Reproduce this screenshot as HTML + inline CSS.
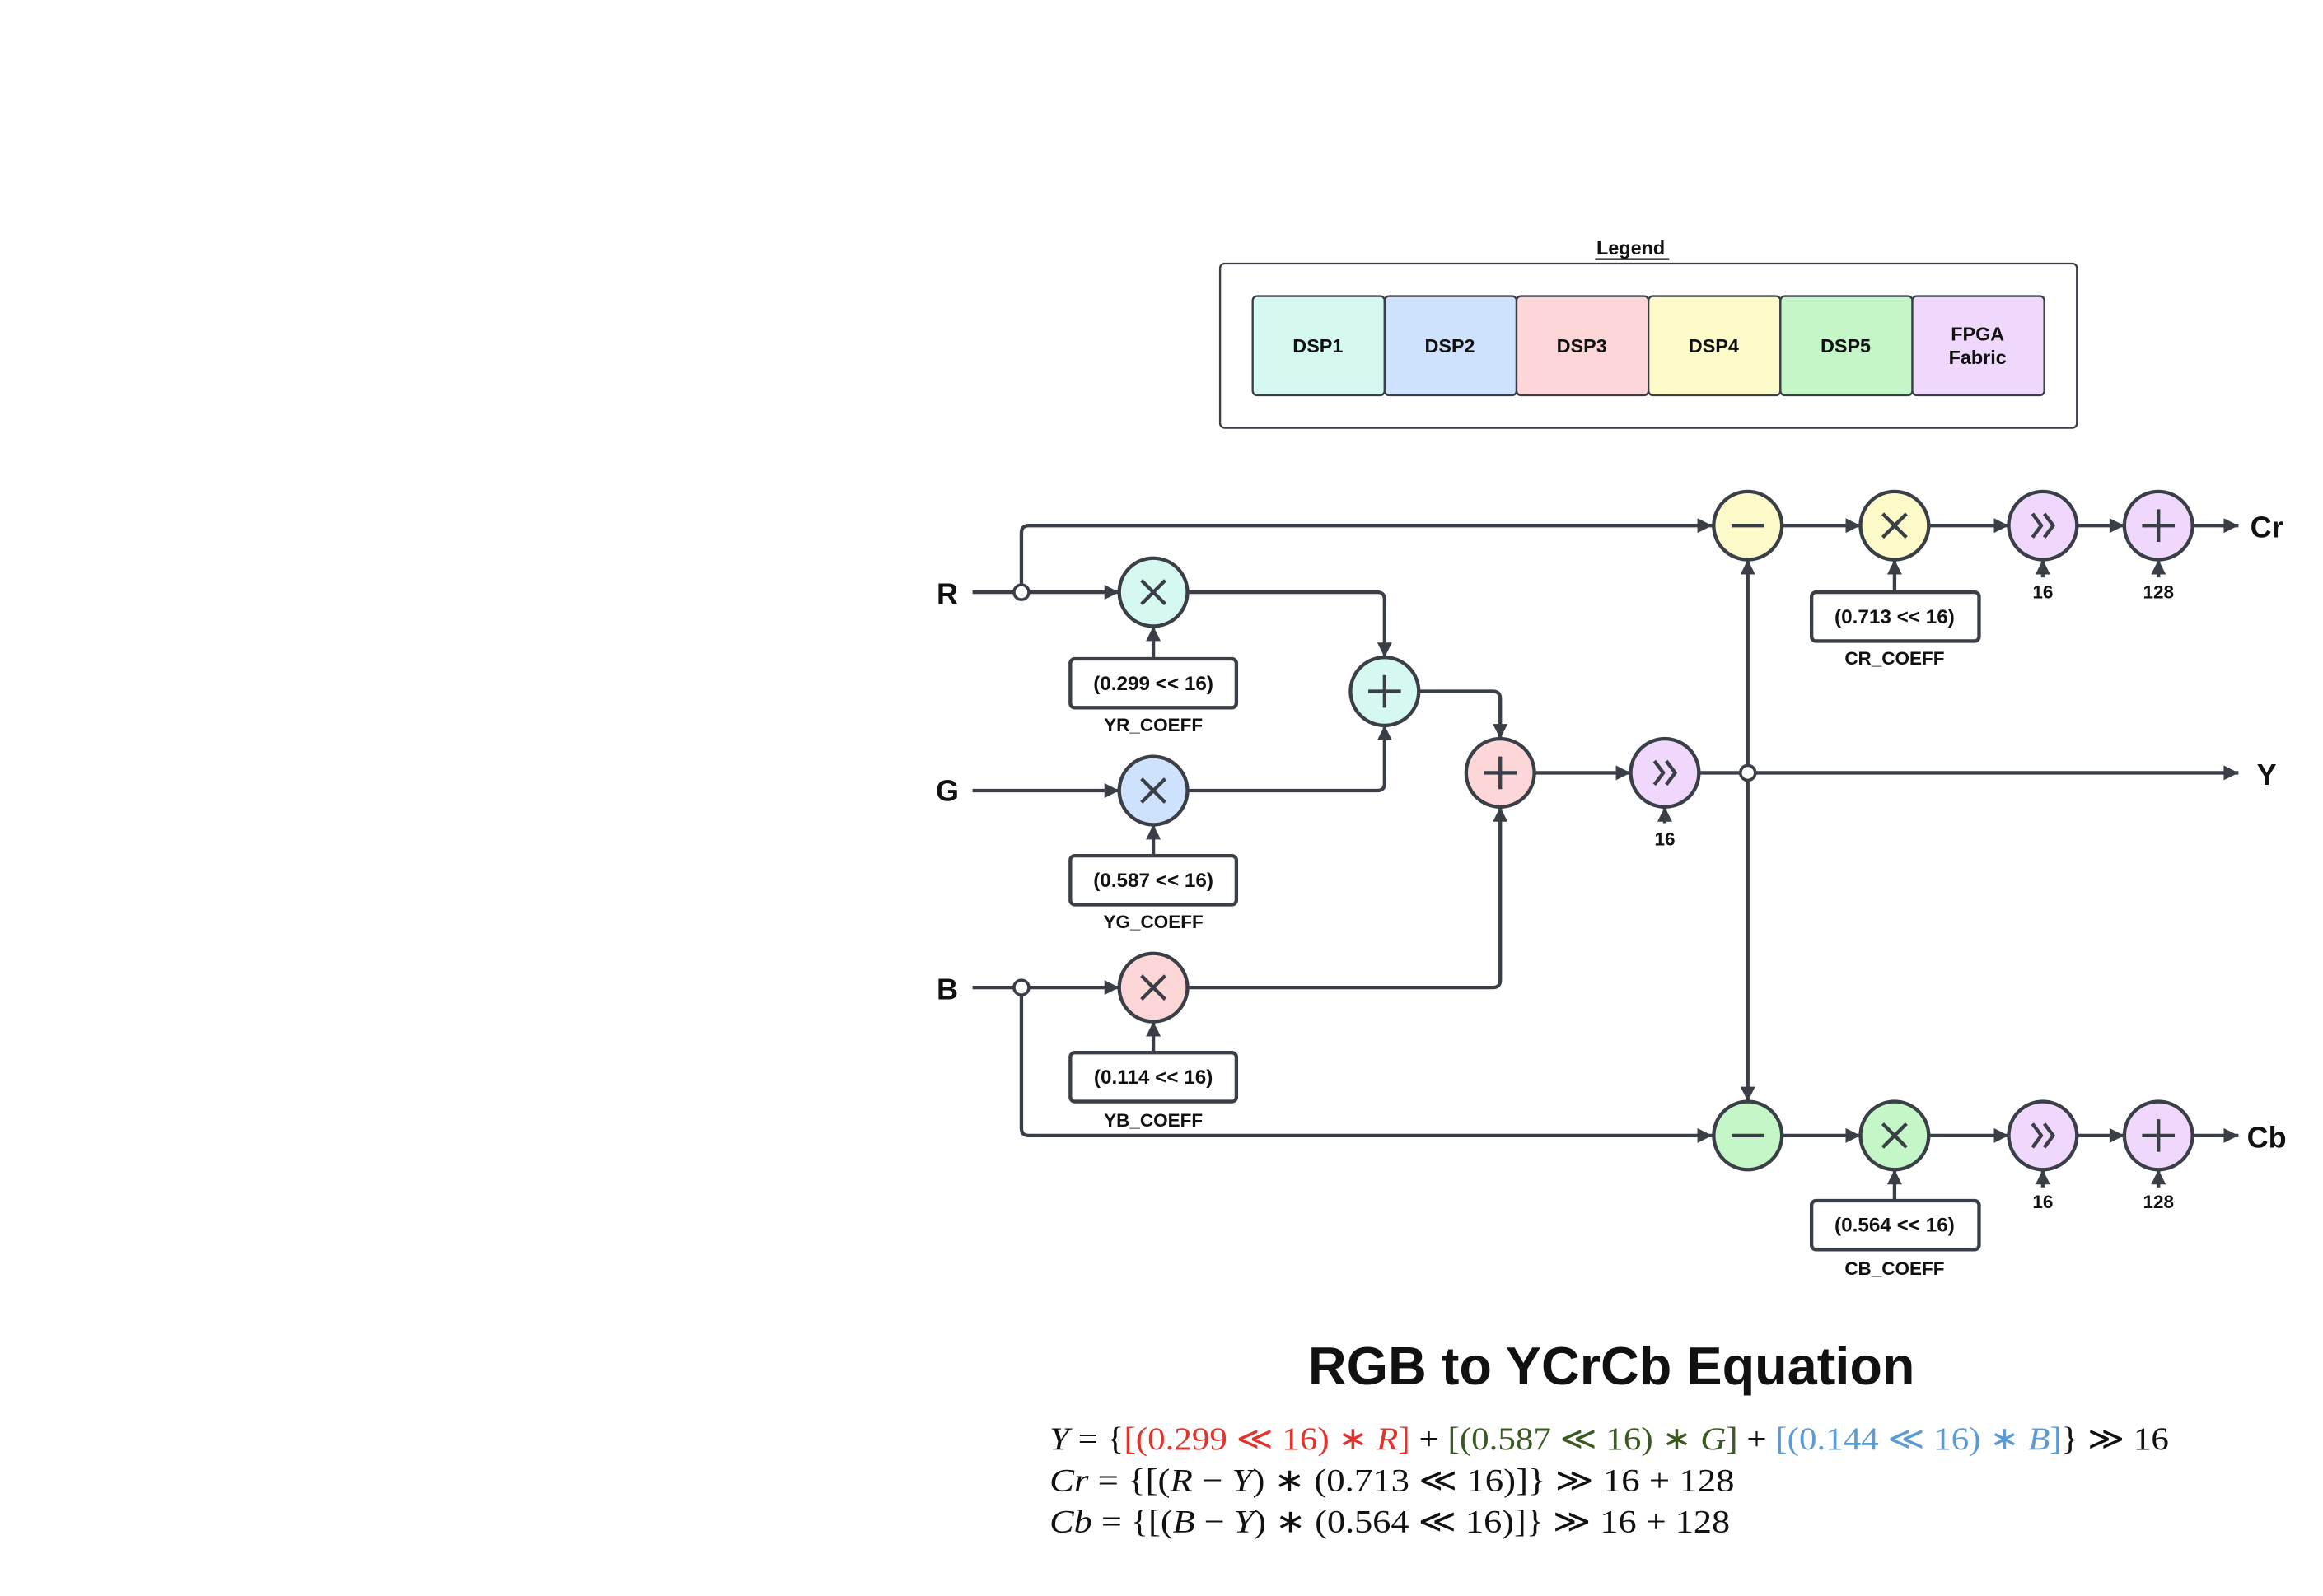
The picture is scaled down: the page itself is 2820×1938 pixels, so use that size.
<!DOCTYPE html>
<html><head><meta charset="utf-8"><style>
html,body{margin:0;padding:0;background:#fff;}
svg{display:block;}
.t{font-family:"Liberation Sans",sans-serif;font-weight:bold;fill:#111;}
.w{stroke:#3a3f47;stroke-width:2.4;fill:none;stroke-linejoin:round;}
.n{stroke:#3a3f47;stroke-width:2.4;}
.eq{font-family:"Liberation Serif",serif;font-size:22px;fill:#111;}
</style></head><body>
<svg width="2820" height="1938" viewBox="0 0 1567 1078" preserveAspectRatio="none" xmlns="http://www.w3.org/2000/svg">
<defs>
<marker id="b" viewBox="0 0 10 10" refX="10" refY="5" markerWidth="12" markerHeight="10" orient="auto" markerUnits="userSpaceOnUse"><path d="M0,0L10,5L0,10z" fill="#3a3f47"/></marker>
<g id="mul"><path d="M-8,-8L8,8M8,-8L-8,8" class="w"/></g>
<g id="add"><path d="M-11,0H11M0,-11V11" class="w"/></g>
<g id="sub"><path d="M-11,0H11" class="w"/></g>
<g id="shr"><path d="M-7,-8L-1,0L-7,8M1,-8L7,0L1,8" class="w"/></g>
</defs>

<!-- Legend -->
<text x="1100" y="172" class="t" font-size="13" text-anchor="middle">Legend</text>
<line x1="1076" y1="175" x2="1126" y2="175" stroke="#111" stroke-width="1.3"/>
<rect x="823" y="178" width="578" height="111" rx="3" fill="#fff" stroke="#3a3f47" stroke-width="1.3"/>
<g stroke="#3a3f47" stroke-width="1.3">
<rect x="845" y="200" width="89" height="67" rx="3" fill="#d5f8f1"/>
<rect x="934" y="200" width="89" height="67" rx="3" fill="#cfe2fd"/>
<rect x="1023" y="200" width="89" height="67" rx="3" fill="#fdd7d8"/>
<rect x="1112" y="200" width="89" height="67" rx="3" fill="#fdfac9"/>
<rect x="1201" y="200" width="89" height="67" rx="3" fill="#c4f6c7"/>
<rect x="1290" y="200" width="89" height="67" rx="3" fill="#f0d8fc"/>
</g>
<g class="t" font-size="13" text-anchor="middle">
<text x="889" y="238">DSP1</text><text x="978" y="238">DSP2</text><text x="1067" y="238">DSP3</text>
<text x="1156" y="238">DSP4</text><text x="1245" y="238">DSP5</text>
<text x="1334" y="230">FPGA</text><text x="1334" y="246">Fabric</text>
</g>

<!-- Wires -->
<g class="w" marker-end="url(#b)">
<path d="M656,400H755"/>
<path d="M689,400V360Q689,355 694,355H1155"/>
<path d="M656,534H755"/>
<path d="M656,667H755"/>
<path d="M689,667V762Q689,767 694,767H1155"/>
<path d="M801,400H929Q934,400 934,405V444"/>
<path d="M801,534H929Q934,534 934,529V490"/>
<path d="M957,467H1007Q1012,467 1012,472V499"/>
<path d="M801,667H1007Q1012,667 1012,662V545"/>
<path d="M1035,522H1100"/>
<path d="M1146,522H1510"/>
<path d="M1179,522V378"/>
<path d="M1179,522V744"/>
<path d="M1202,355H1255"/><path d="M1301,355H1355"/><path d="M1401,355H1433"/><path d="M1479,355H1510"/>
<path d="M1202,767H1255"/><path d="M1301,767H1355"/><path d="M1401,767H1433"/><path d="M1479,767H1510"/>
<path d="M778,445V423"/><path d="M778,578V557"/><path d="M778,711V690"/>
<path d="M1278,400V378"/><path d="M1278,811V790"/>
<path d="M1123,556V545"/>
<path d="M1378,390V378"/><path d="M1456,390V378"/>
<path d="M1378,802V790"/><path d="M1456,802V790"/>
</g>
<g fill="#fff" stroke="#3a3f47" stroke-width="2"><circle cx="689" cy="400" r="5"/><circle cx="689" cy="667" r="5"/><circle cx="1179" cy="522" r="5"/></g>

<!-- Nodes -->
<g class="n">
<circle cx="778" cy="400" r="23" fill="#d5f8f1"/><circle cx="778" cy="534" r="23" fill="#cfe2fd"/><circle cx="778" cy="667" r="23" fill="#fdd7d8"/>
<circle cx="934" cy="467" r="23" fill="#d5f8f1"/><circle cx="1012" cy="522" r="23" fill="#fdd7d8"/><circle cx="1123" cy="522" r="23" fill="#f0d8fc"/>
<circle cx="1179" cy="355" r="23" fill="#fdfac9"/><circle cx="1278" cy="355" r="23" fill="#fdfac9"/><circle cx="1378" cy="355" r="23" fill="#f0d8fc"/><circle cx="1456" cy="355" r="23" fill="#f0d8fc"/>
<circle cx="1179" cy="767" r="23" fill="#c4f6c7"/><circle cx="1278" cy="767" r="23" fill="#c4f6c7"/><circle cx="1378" cy="767" r="23" fill="#f0d8fc"/><circle cx="1456" cy="767" r="23" fill="#f0d8fc"/>
</g>
<use href="#mul" x="778" y="400"/><use href="#mul" x="778" y="534"/><use href="#mul" x="778" y="667"/>
<use href="#add" x="934" y="467"/><use href="#add" x="1012" y="522"/><use href="#shr" x="1123" y="522"/>
<use href="#sub" x="1179" y="355"/><use href="#mul" x="1278" y="355"/><use href="#shr" x="1378" y="355"/><use href="#add" x="1456" y="355"/>
<use href="#sub" x="1179" y="767"/><use href="#mul" x="1278" y="767"/><use href="#shr" x="1378" y="767"/><use href="#add" x="1456" y="767"/>

<!-- Coefficient boxes -->
<g fill="#fff" stroke="#3a3f47" stroke-width="2.4">
<rect x="722" y="445" width="112" height="33" rx="3"/><rect x="722" y="578" width="112" height="33" rx="3"/><rect x="722" y="711" width="112" height="33" rx="3"/>
<rect x="1222" y="400" width="113" height="33" rx="3"/><rect x="1222" y="811" width="113" height="33" rx="3"/>
</g>
<g class="t" font-size="13.5" text-anchor="middle">
<text x="778" y="466">(0.299 &lt;&lt; 16)</text><text x="778" y="599">(0.587 &lt;&lt; 16)</text><text x="778" y="732">(0.114 &lt;&lt; 16)</text>
<text x="1278" y="421">(0.713 &lt;&lt; 16)</text><text x="1278" y="832">(0.564 &lt;&lt; 16)</text>
</g>
<g class="t" font-size="12.5" text-anchor="middle">
<text x="778" y="494">YR_COEFF</text><text x="778" y="627">YG_COEFF</text><text x="778" y="761">YB_COEFF</text>
<text x="1278" y="449">CR_COEFF</text><text x="1278" y="861">CB_COEFF</text>
<text x="1123" y="571">16</text><text x="1378" y="404">16</text><text x="1456" y="404">128</text>
<text x="1378" y="816">16</text><text x="1456" y="816">128</text>
</g>
<g class="t" font-size="20" text-anchor="middle">
<text x="639" y="408">R</text><text x="639" y="541">G</text><text x="639" y="675">B</text>
<text x="1529" y="363">Cr</text><text x="1529" y="530">Y</text><text x="1529" y="775">Cb</text>
</g>

<!-- Title & equations -->
<text x="1087" y="935" class="t" font-size="36" text-anchor="middle">RGB to YCrCb Equation</text>
<text x="708" y="979" class="eq" textLength="755" lengthAdjust="spacingAndGlyphs"><tspan font-style="italic">Y</tspan> = {<tspan fill="#e0342c">[(0.299 ≪ 16) ∗ <tspan font-style="italic">R</tspan>]</tspan> + <tspan fill="#3b5a22">[(0.587 ≪ 16) ∗ <tspan font-style="italic">G</tspan>]</tspan> + <tspan fill="#5b9bd5">[(0.144 ≪ 16) ∗ <tspan font-style="italic">B</tspan>]</tspan>} ≫ 16</text>
<text x="708" y="1007" class="eq" textLength="462" lengthAdjust="spacingAndGlyphs"><tspan font-style="italic">Cr</tspan> = {[(<tspan font-style="italic">R</tspan> − <tspan font-style="italic">Y</tspan>) ∗ (0.713 ≪  16)]} ≫ 16 + 128</text>
<text x="708" y="1035" class="eq" textLength="459" lengthAdjust="spacingAndGlyphs"><tspan font-style="italic">Cb</tspan> = {[(<tspan font-style="italic">B</tspan> − <tspan font-style="italic">Y</tspan>) ∗ (0.564 ≪ 16)]} ≫ 16 + 128</text>
</svg>
</body></html>
